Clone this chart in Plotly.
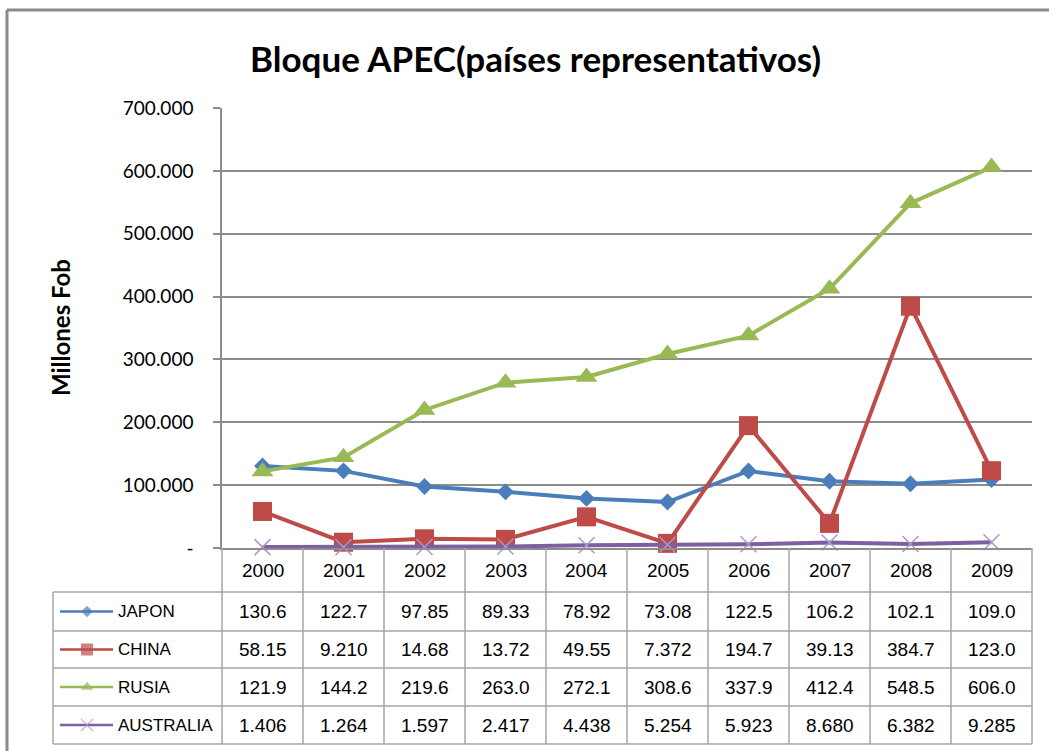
import plotly.graph_objects as go

# ---------------- data ----------------
years = [2000, 2001, 2002, 2003, 2004, 2005, 2006, 2007, 2008, 2009]
series_names = ["JAPON", "CHINA", "RUSIA", "AUSTRALIA"]
japon = [130.6, 122.7, 97.85, 89.33, 78.92, 73.08, 122.5, 106.2, 102.1, 109.0]
china = [58.15, 9.210, 14.68, 13.72, 49.55, 7.372, 194.7, 39.13, 384.7, 123.0]
rusia = [121.9, 144.2, 219.6, 263.0, 272.1, 308.6, 337.9, 412.4, 548.5, 606.0]
australia = [1.406, 1.264, 1.597, 2.417, 4.438, 5.254, 5.923, 8.680, 6.382, 9.285]
y_tickvals = [0, 100, 200, 300, 400, 500, 600, 700]
y_ticktext = ["-", "100.000", "200.000", "300.000", "400.000", "500.000", "600.000", "700.000"]
title_text = "Bloque APEC(países representativos)"
y_title = "Millones Fob"

series_values = [japon, china, rusia, australia]

# ---------------- styling ----------------
W, H = 1049, 751
def px(x):
    return x / W
def py(y):
    return 1 - y / H

colors = ["#4A7EBB", "#BE4B48", "#98B954", "#7D60A0"]
symbols = ["diamond", "square", "triangle-up", "x-thin"]
msizes = [13, 19, 19, 16]
icon_sizes = [9, 12, 11, 12]
x_marker_color = "#A898CE"

PLOT_L, PLOT_R, PLOT_T, PLOT_B = 222, 1032, 108, 548
TABLE_L = 53
row_lines = [592, 631, 668, 706, 744]
grid_col = "#8C8C8C"
table_col = "#A6A6A6"
num_font = "Liberation Sans, Arial, sans-serif"
txt_font = "Lato, Open Sans, sans-serif"

fig = go.Figure()

for name, vals, c, sym, ms in zip(series_names, series_values, colors, symbols, msizes):
    if sym == "x-thin":
        marker = dict(symbol=sym, size=ms, color=x_marker_color,
                      line=dict(color=x_marker_color, width=1.5))
    else:
        marker = dict(symbol=sym, size=ms, color=c, line=dict(width=0))
    fig.add_trace(go.Scatter(x=years, y=vals, name=name, mode="lines+markers",
                             line=dict(color=c, width=4), marker=marker,
                             showlegend=False, cliponaxis=False))

# legend keys inside the table (pixel-space helper subplot covering the figure)
for i, (name, c, sym, isz) in enumerate(zip(series_names, colors, symbols, icon_sizes)):
    yc = (row_lines[i] + row_lines[i + 1]) / 2
    if sym == "x-thin":
        marker = dict(symbol=sym, size=[0, isz, 0], color=x_marker_color,
                      line=dict(color=x_marker_color, width=1.2))
    else:
        marker = dict(symbol=sym, size=[0, isz, 0], color=c, line=dict(width=0))
    fig.add_trace(go.Scatter(x=[60, 87, 113], y=[yc, yc, yc], mode="lines+markers",
                             line=dict(color=c, width=2.5), marker=marker,
                             xaxis="x2", yaxis="y2", showlegend=False,
                             hoverinfo="skip", cliponaxis=False))

shapes = []
# outer chart border (top and left edges visible in the frame)
shapes.append(dict(type="line", xref="paper", yref="paper", x0=px(7), x1=1,
                   y0=py(10), y1=py(10), line=dict(color="#8A8A8A", width=3)))
shapes.append(dict(type="line", xref="paper", yref="paper", x0=px(7), x1=px(7),
                   y0=0, y1=py(10), line=dict(color="#8A8A8A", width=3)))
# table horizontal lines
for yl in row_lines:
    shapes.append(dict(type="line", xref="paper", yref="paper", x0=px(TABLE_L), x1=px(PLOT_R),
                       y0=py(yl), y1=py(yl), line=dict(color=table_col, width=1.5)))
# table vertical lines
shapes.append(dict(type="line", xref="paper", yref="paper", x0=px(TABLE_L), x1=px(TABLE_L),
                   y0=py(row_lines[0]), y1=py(row_lines[-1]), line=dict(color=table_col, width=1.5)))
ncol = len(years)
for k in range(ncol + 1):
    xl = PLOT_L + (PLOT_R - PLOT_L) * k / ncol
    shapes.append(dict(type="line", xref="paper", yref="paper", x0=px(xl), x1=px(xl),
                       y0=py(PLOT_B), y1=py(row_lines[-1]), line=dict(color=table_col, width=1.5)))

annotations = []
annotations.append(dict(text=title_text, xref="paper", yref="paper", x=px(535), y=py(58),
                        showarrow=False, xanchor="center", yanchor="middle",
                        font=dict(family=txt_font, size=35, color="black", weight="bold")))
annotations.append(dict(text=y_title, xref="paper", yref="paper", x=px(60), y=py(328),
                        showarrow=False, textangle=-90, xanchor="center", yanchor="middle",
                        font=dict(family=txt_font, size=24, color="black", weight="bold")))
# header years
for yr in years:
    annotations.append(dict(text=str(yr), xref="x", yref="paper", x=yr,
                            y=py((PLOT_B + row_lines[0]) / 2), yanchor="middle", showarrow=False,
                            font=dict(family=num_font, size=19, color="black")))
# row names + values
for i, (name, vals) in enumerate(zip(series_names, series_values)):
    yc = py((row_lines[i] + row_lines[i + 1]) / 2)
    annotations.append(dict(text=name, xref="paper", yref="paper", x=px(116), y=yc,
                            xanchor="left", yanchor="middle", showarrow=False,
                            font=dict(family=num_font, size=17, color="black")))
    for yr, v in zip(years, vals):
        annotations.append(dict(text=f"{v:#.4g}", xref="x", yref="paper", x=yr, y=yc,
                                yanchor="middle", showarrow=False,
                                font=dict(family=num_font, size=19, color="black")))

fig.update_layout(
    width=W, height=H,
    margin=dict(l=0, r=0, t=0, b=0, pad=0, autoexpand=False),
    paper_bgcolor="white", plot_bgcolor="rgba(0,0,0,0)",
    xaxis=dict(domain=[px(PLOT_L), px(PLOT_R)], range=[1999.5, 2009.5], anchor="y",
               automargin=False,
               showticklabels=False, showgrid=False, zeroline=False,
               showline=True, linecolor=grid_col, linewidth=1.5, ticks=""),
    yaxis=dict(domain=[py(PLOT_B), py(PLOT_T)], range=[0, 700], anchor="x",
               automargin=False,
               tickvals=y_tickvals, ticktext=y_ticktext,
               showgrid=True, gridcolor=grid_col, gridwidth=1.5, zeroline=False,
               showline=True, linecolor=grid_col, linewidth=1.5,
               ticks="outside", ticklen=7, tickcolor=grid_col, tickwidth=1.5,
               ticklabelstandoff=16,
               tickfont=dict(family=txt_font, size=19, color="black")),
    xaxis2=dict(domain=[0, 1], range=[0, W], anchor="y2", visible=False, fixedrange=True,
                automargin=False),
    yaxis2=dict(domain=[0, 1], range=[H, 0], anchor="x2", visible=False, fixedrange=True,
                automargin=False),
    shapes=shapes,
    annotations=annotations,
)

fig.write_html(
    "out.html",
    config={"displayModeBar": False},
    post_script=(
        "document.body.style.margin='0';"
        "var gd=document.getElementById('{plot_id}');"
        "gd.style.position='fixed';gd.style.left='0px';gd.style.top='0px';"
    ),
)
